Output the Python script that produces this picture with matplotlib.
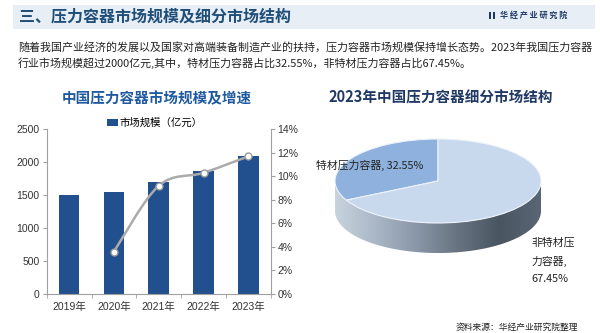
import numpy as np
import matplotlib.pyplot as plt
from matplotlib.path import Path
from matplotlib.patches import PathPatch, Rectangle
from matplotlib.colors import LinearSegmentedColormap

plt.rcParams['font.family'] = ['Noto Sans CJK SC', 'DejaVu Sans']
NUM_FONT = ['Liberation Sans', 'Noto Sans CJK SC']

# 数据
years = ['2019年', '2020年', '2021年', '2022年', '2023年']
market = [1500, 1550, 1705, 1872, 2088]          # 市场规模（亿元）
growth_years = [1, 2, 3, 4]                      # 2020-2023
growth = [3.6, 9.2, 10.3, 11.7]                  # 增速 %
pie_labels = ['特材压力容器, 32.55%', '非特材压\n力容器,\n67.45%']
pie_share = [32.55, 67.45]

W, H = 600, 333
fig = plt.figure(figsize=(W / 100, H / 100), dpi=100)
fig.patch.set_facecolor('white')


def fx(x):
    return x / W


def fy(y):
    return 1 - y / H


# 顶部标题栏
fig.patches.append(Rectangle((fx(13), fy(29)), fx(582), 24 / H, transform=fig.transFigure,
                             facecolor='#E8EEF6', edgecolor='none', zorder=0))
fig.text(fx(19), fy(17), '三、压力容器市场规模及细分市场结构', fontsize=11.5, fontweight='bold',
         color='#1F4E79', va='center', ha='left')
fig.patches.append(Rectangle((fx(489), fy(19)), fx(2), 7 / H, transform=fig.transFigure,
                             facecolor='#1F3864', edgecolor='none'))
fig.patches.append(Rectangle((fx(492.5), fy(19)), fx(2), 7 / H, transform=fig.transFigure,
                             facecolor='#1F3864', edgecolor='none'))
fig.text(fx(500), fy(15.5), '华 经 产 业 研 究 院', fontsize=5.8, fontweight='bold',
         color='#1F3864', va='center', ha='left')

# 说明文字
fig.text(fx(18), fy(47), '随着我国产业经济的发展以及国家对高端装备制造产业的扶持，压力容器市场规模保持增长态势。2023年我国压力容器',
         fontsize=7.9, color='#222222', va='center', ha='left')
fig.text(fx(18), fy(63), '行业市场规模超过2000亿元,其中，特材压力容器占比32.55%，非特材压力容器占比67.45%。',
         fontsize=7.9, color='#222222', va='center', ha='left')

# ---------- 柱状图 ----------
fig.text(fx(157), fy(98), '中国压力容器市场规模及增速', fontsize=10.5, fontweight='bold',
         color='#1F5AA0', ha='center', va='center')

ax = fig.add_axes([fx(46.7), fy(294), 224 / W, 164.7 / H])
x = np.arange(len(years))
ax.bar(x, market, width=0.46, color='#22508F', label='市场规模（亿元）', zorder=2)
ax.set_xlim(-0.5, 4.5)
ax.set_ylim(0, 2500)
ax.set_yticks(np.arange(0, 2501, 500))
ax.set_xticks(x)
ax.set_xticklabels(years, family=NUM_FONT)
ax.set_xticks(np.arange(-0.5, 5, 1), minor=True)
ax.tick_params(axis='x', which='major', length=0, pad=6, labelsize=7.5, labelcolor='#333333')
ax.tick_params(axis='x', which='minor', length=3, color='#A0A0A0', direction='out')
ax.tick_params(axis='y', length=3, color='#A0A0A0', labelsize=7.5, labelcolor='#333333', pad=2)
for lab in ax.get_yticklabels():
    lab.set_family(NUM_FONT)
ax.spines['top'].set_visible(False)
ax.spines['right'].set_visible(False)
ax.spines['left'].set_color('#A0A0A0')
ax.spines['bottom'].set_color('#A0A0A0')

ax2 = ax.twinx()
ax2.set_ylim(0, 14)
ax2.set_yticks(np.arange(0, 15, 2))
ax2.set_yticklabels(['{}%'.format(v) for v in range(0, 15, 2)], family=NUM_FONT)
ax2.tick_params(axis='y', length=3, color='#A0A0A0', labelsize=7.5, labelcolor='#333333', pad=2)
for s in ['top', 'left', 'bottom']:
    ax2.spines[s].set_visible(False)
ax2.spines['right'].set_color('#A0A0A0')

# 平滑曲线（贝塞尔）
pts = np.column_stack([growth_years, growth]).astype(float)
ext = np.vstack([pts[0], pts, pts[-1]])
verts = [tuple(pts[0])]
codes = [Path.MOVETO]
for i in range(len(pts) - 1):
    p0, p1, p2, p3 = ext[i], ext[i + 1], ext[i + 2], ext[i + 3]
    verts += [tuple(p1 + (p2 - p0) / 6), tuple(p2 - (p3 - p1) / 6), tuple(p2)]
    codes += [Path.CURVE4] * 3
ax2.add_patch(PathPatch(Path(verts, codes), facecolor='none', edgecolor='#ABABAB', lw=1.8, zorder=3))
ax2.plot(growth_years, growth, linestyle='none', marker='o', markersize=5,
         markerfacecolor='white', markeredgecolor='#9A9A9A', markeredgewidth=1, zorder=4)

ax.legend(loc='center', bbox_to_anchor=(fx(155), fy(123)), bbox_transform=fig.transFigure,
          frameon=False, fontsize=7.5, handlelength=1.0, handleheight=0.8, handletextpad=0.2,
          borderpad=0)

# ---------- 3D 饼图 ----------
fig.text(fx(441), fy(98), '2023年中国压力容器细分市场结构', fontsize=10.5, fontweight='bold',
         color='#1F3864', ha='center', va='center')

cx, cy, rx, ry = 438, 181, 103, 42
depth = 30 / ry
xl, yl = (-1.2, 1.2), (-1.9, 1.4)
pax = fig.add_axes([fx(cx + xl[0] * rx), fy(cy - yl[0] * ry), (xl[1] - xl[0]) * rx / W,
                    (yl[1] - yl[0]) * ry / H])
wedges, _ = pax.pie(pie_share, startangle=90, counterclock=True,
                    colors=['#8EB1DD', '#C8D9EE'],
                    wedgeprops=dict(edgecolor='#EEF3FA', linewidth=0.8))
for w in wedges:
    w.set_zorder(3)
pax.set_aspect('auto')
pax.set_xlim(*xl)
pax.set_ylim(*yl)
pax.axis('off')

# 侧面
t = np.linspace(np.pi, 2 * np.pi, 200)
side = np.vstack([np.column_stack([np.cos(t), np.sin(t)]),
                  np.column_stack([np.cos(t[::-1]), np.sin(t[::-1]) - depth])])
side_patch = PathPatch(Path(side, closed=True), facecolor='none', edgecolor='none')
pax.add_patch(side_patch)
cmap = LinearSegmentedColormap.from_list('side', ['#C9D3DE', '#A8B6C6', '#8896A7',
                                                  '#66727F', '#4A5562', '#5A6674'])
grad = np.linspace(0, 1, 256).reshape(1, -1)
im = pax.imshow(grad, cmap=cmap, extent=(-1, 1, -1 - depth, 0), aspect='auto', zorder=1,
                interpolation='bilinear')
im.set_clip_path(side_patch)
pax.set_xlim(*xl)
pax.set_ylim(*yl)

pax.text(-0.66, 0.38, pie_labels[0], fontsize=7.8, color='#222222', ha='center', va='center',
         zorder=5)
pax.text(0.91, -1.9, pie_labels[1], fontsize=7.8, color='#222222', ha='left', va='center',
         linespacing=1.9, zorder=5, clip_on=False)

fig.text(fx(578), fy(327), '资料来源：华经产业研究院整理', fontsize=6.3, color='#222222',
         ha='right', va='center')

fig.savefig('out.png', dpi=100)
